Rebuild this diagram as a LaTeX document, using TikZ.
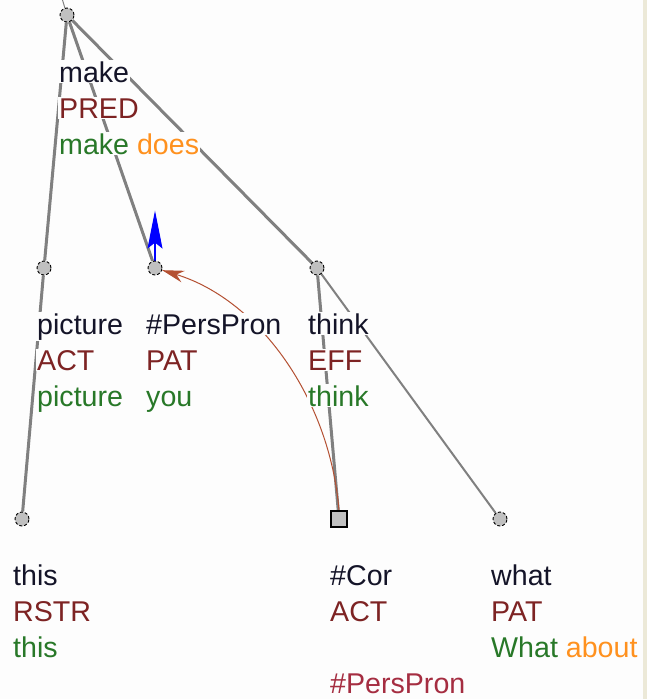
\documentclass[tikz,border=0pt]{standalone}
\usepackage{fontspec}
\setmainfont{Liberation Sans}
\usetikzlibrary{arrows.meta}
\definecolor{lblack}{RGB}{20,20,40}
\definecolor{lfun}{RGB}{125,35,35}
\definecolor{lgreen}{RGB}{40,120,40}
\definecolor{lorange}{RGB}{255,145,30}
\definecolor{lcor}{RGB}{165,45,65}
\definecolor{edgegray}{RGB}{128,128,128}
\definecolor{nodegray}{RGB}{192,192,192}
\definecolor{arrbrown}{RGB}{180,80,50}
\definecolor{stripcol}{RGB}{236,233,216}
\definecolor{bgcol}{RGB}{253,253,253}
\pgfdeclarelayer{back}
\pgfdeclarelayer{bg}
\pgfsetlayers{back,bg,main}
\begin{document}
\begin{tikzpicture}[x=1pt,y=-1pt,
  tnode/.style={circle, fill=nodegray, draw=black, densely dashed, line width=0.9pt, minimum size=14pt, inner sep=0pt},
  cornode/.style={rectangle, fill=nodegray, draw=black, line width=1.2pt, minimum size=16pt, inner sep=0pt},
  txt/.style={anchor=base west, inner sep=1pt, fill=bgcol, font=\fontsize{28.6}{28.6}\selectfont},
  edgethick/.style={draw=edgegray, line width=3pt},
  edgethin/.style={draw=edgegray, line width=2pt},
]
\begin{pgfonlayer}{back}
\fill[bgcol] (0,0) rectangle (647,699);
\fill[stripcol] (643,0) rectangle (647,699);
\end{pgfonlayer}
\useasboundingbox (0,0) rectangle (647,699);

% tree nodes
\node[tnode] (make) at (67,15) {};
\node[tnode] (pic) at (44,268) {};
\node[tnode] (pp) at (155,268) {};
\node[tnode] (think) at (317,268) {};
\node[tnode] (this) at (22,519) {};
\node[cornode] (cor) at (339,519) {};
\node[tnode] (what) at (500,519) {};
\coordinate (up) at (61,-5);

% labels
\node[txt, text=lblack] (make1) at (58,82) {make};
\node[txt, text=lfun] (make2) at (58,118) {PRED};
\node[txt] (make3) at (58,154) {\textcolor{lgreen}{make} \textcolor{lorange}{does}};

\node[txt, text=lblack] (pic1) at (36,334) {picture};
\node[txt, text=lfun] (pic2) at (36,370) {ACT};
\node[txt, text=lgreen] (pic3) at (36,406) {picture};

\node[txt, text=lblack] (pp1) at (145,334) {\#PersPron};
\node[txt, text=lfun] (pp2) at (145,370) {PAT};
\node[txt, text=lgreen] (pp3) at (145,406) {you};

\node[txt, text=lblack] (think1) at (307,334) {think};
\node[txt, text=lfun] (think2) at (307,370) {EFF};
\node[txt, text=lgreen] (think3) at (307,406) {think};

\node[txt, text=lblack] (this1) at (12,585) {this};
\node[txt, text=lfun] (this2) at (12,621) {RSTR};
\node[txt, text=lgreen] (this3) at (12,657) {this};

\node[txt, text=lblack] (cor1) at (329,585) {\#Cor};
\node[txt, text=lfun] (cor2) at (329,621) {ACT};
\node[txt, text=lcor] (cor4) at (329,693) {\#PersPron};

\node[txt, text=lblack] (what1) at (490,585) {what};
\node[txt, text=lfun] (what2) at (490,621) {PAT};
\node[txt] (what3) at (490,657) {\textcolor{lgreen}{What} \textcolor{lorange}{about}};

\begin{pgfonlayer}{bg}
  \draw[draw=edgegray, line width=1pt] (make) -- (up);
  \draw[edgethick] (make) -- (pic);
  \draw[edgethick] (make) -- (pp);
  \draw[edgethick] (make) -- (think);
  \draw[edgethick] (pic) -- (this);
  \draw[edgethick] (think) -- (cor);
  \draw[edgethin] (think) -- (what);
  \draw[arrbrown, line width=1pt, -{Stealth[length=22pt,width=12pt]}]
    (cor.north) .. controls (330,400) and (260,300) .. (pp);
  \draw[blue, line width=1.5pt, -{Stealth[length=38pt,width=15pt,inset=6pt]}] (pp.north) -- ++(0,-50);
\end{pgfonlayer}
\end{tikzpicture}
\end{document}
